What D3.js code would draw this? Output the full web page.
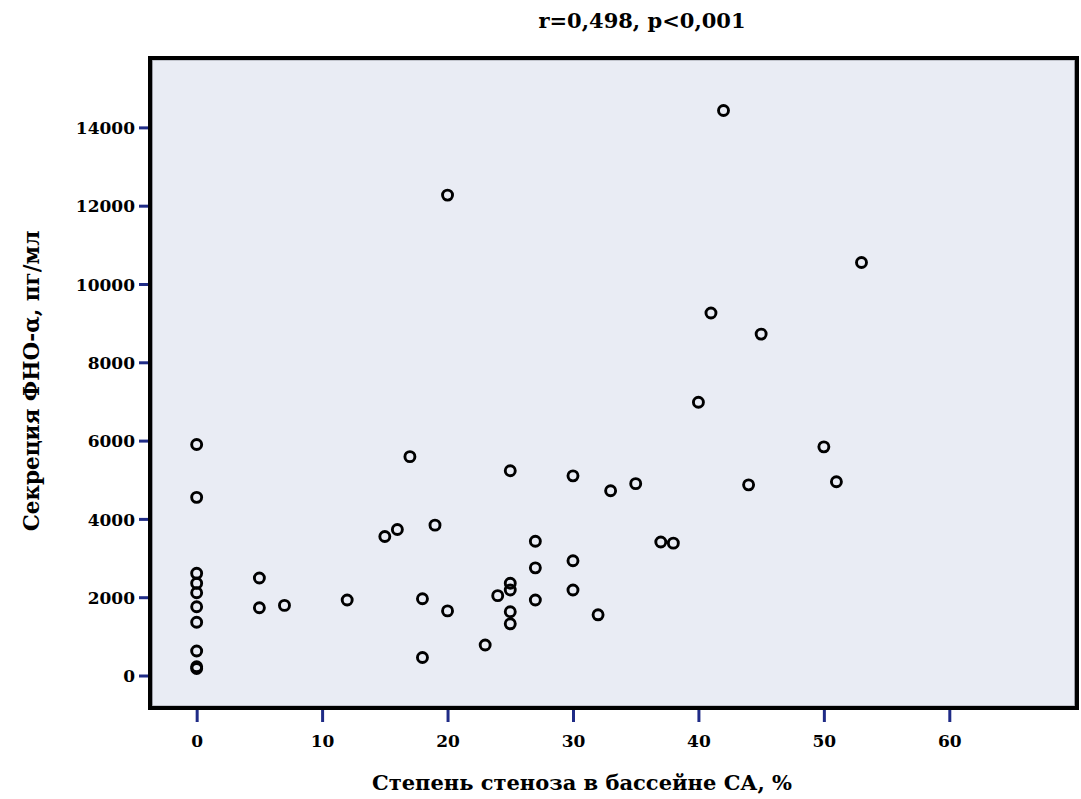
<!DOCTYPE html>
<html>
<head>
<meta charset="utf-8">
<script src="https://cdn.jsdelivr.net/npm/d3@7"></script>
<style>
  body { margin: 0; background: #fff; }
  text { font-family: "DejaVu Serif", serif; font-weight: bold; fill: #000; }
</style>
</head>
<body>
<div id="chart"></div>
<script>
// stenosis degree (%) and TNF-alpha secretion (pg/ml)
const stenosis = [
  0, 0, 0, 0, 0, 0, 0, 0, 0, 0,
  5, 5, 7, 12, 15, 16, 17, 18, 18, 19,
  20, 20, 23, 24, 25, 25, 25, 25, 25,
  27, 27, 27, 30, 30, 30, 32, 33, 35, 37, 38,
  40, 41, 42, 44, 45, 50, 51, 53
];
const secretion = [
  5900, 4550, 2610, 2355, 2115, 1757, 1359, 626, 225, 180,
  2490, 1730, 1790, 1930, 3550, 3730, 5590, 1960, 460, 3840,
  12270, 1650, 780, 2040, 5230, 2355, 2184, 1630, 1320,
  3430, 2750, 1930, 5100, 2930, 2184, 1550, 4720, 4900, 3410, 3380,
  6980, 9260, 14430, 4870, 8720, 5840, 4950, 10550
];
const xTicks = [0, 10, 20, 30, 40, 50, 60];
const yTicks = [0, 2000, 4000, 6000, 8000, 10000, 12000, 14000];
const title = "r=0,498, p<0,001";
const xLabel = "Степень стеноза в бассейне СА, %";
const yLabel = "Секреция ФНО-α, пг/мл";

const width = 1081, height = 799;
const pLeft = 150, pRight = 1077, pTop = 58, pBottom = 708;

const svg = d3.select('#chart').append('svg')
  .attr('width', width).attr('height', height);

const x = d3.scaleLinear().domain([-3.72, 70.18]).range([pLeft, pRight]);
const y = d3.scaleLinear().domain([-830, 15772]).range([pBottom, pTop]);

// plot background
svg.append('rect')
  .attr('x', pLeft).attr('y', pTop)
  .attr('width', pRight - pLeft).attr('height', pBottom - pTop)
  .attr('fill', '#e9ecf4');

// axes
const xAxis = svg.append('g')
  .attr('transform', `translate(0,${pBottom})`)
  .call(d3.axisBottom(x).tickValues(xTicks).tickSize(14).tickPadding(13).tickFormat(d3.format('d')));
const yAxis = svg.append('g')
  .attr('transform', `translate(${pLeft},0)`)
  .call(d3.axisLeft(y).tickValues(yTicks).tickSize(11).tickPadding(4).tickFormat(d3.format('d')));

[xAxis, yAxis].forEach(g => {
  g.select('.domain').remove();
  g.selectAll('.tick line').attr('stroke', '#1f2b86').attr('stroke-width', 3);
  g.selectAll('.tick text').style('font-size', '17px').style('font-family', '"DejaVu Serif", serif').style('font-weight', 'bold');
});
yAxis.selectAll('.tick text').attr('dy', '0.36em');

// frame
svg.append('rect')
  .attr('x', pLeft + 2.5).attr('y', pTop + 2).attr('width', pRight - pLeft - 5).attr('height', pBottom - pTop - 4)
  .attr('fill', 'none').attr('stroke', '#9a9ca4').attr('stroke-width', 1);
svg.append('rect')
  .attr('x', pLeft).attr('y', pTop)
  .attr('width', pRight - pLeft).attr('height', pBottom - pTop)
  .attr('fill', 'none').attr('stroke', '#000').attr('stroke-width', 4);

// points
svg.append('g').selectAll('circle')
  .data(d3.range(stenosis.length))
  .join('circle')
  .attr('cx', i => x(stenosis[i]))
  .attr('cy', i => y(secretion[i]))
  .attr('r', 5)
  .attr('fill', 'none')
  .attr('stroke', '#000')
  .attr('stroke-width', 2.9);

// texts
svg.append('text')
  .attr('x', 642).attr('y', 28)
  .attr('text-anchor', 'middle')
  .style('font-size', '21px')
  .text(title);

svg.append('text')
  .attr('x', 582).attr('y', 790)
  .attr('text-anchor', 'middle')
  .style('font-size', '21px')
  .text(xLabel);

svg.append('text')
  .attr('transform', `translate(39,381) rotate(-90)`)
  .attr('text-anchor', 'middle')
  .style('font-size', '21.5px')
  .text(yLabel);
</script>
</body>
</html>
